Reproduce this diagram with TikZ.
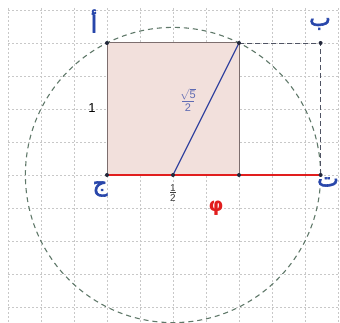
\documentclass[tikz,border=0pt]{standalone}
\usepackage{fontspec}
\setmainfont{Liberation Sans}
\newfontfamily\arabicfont[Script=Arabic, FakeBold=2.5]{DejaVu Sans}
\newfontfamily\dejavu{DejaVu Sans}
\TeXXeTstate=1
\definecolor{gridc}{RGB}{200,200,200}
\definecolor{sqfill}{RGB}{242,224,220}
\definecolor{sqedge}{RGB}{125,110,110}
\definecolor{bluel}{RGB}{55,70,160}
\definecolor{labblue}{RGB}{40,70,170}
\definecolor{redl}{RGB}{225,30,30}
\definecolor{circc}{RGB}{95,120,105}
\definecolor{dotc}{RGB}{35,40,60}
\begin{document}
\begin{tikzpicture}[x=1pt,y=-1pt,
  gridline/.style={gridc, line width=0.6pt, dash pattern=on 2pt off 2pt},
  pt/.style={circle, fill=dotc, inner sep=0pt, minimum size=4pt},
  arlab/.style={text=labblue, font=\arabicfont\fontsize{23}{23}\selectfont, inner sep=0pt},
  numlab/.style={font=\fontsize{13}{13}\selectfont, inner sep=0pt}]
\useasboundingbox (0,0) rectangle (340,323);
% grid
\foreach \k in {0,...,10} \draw[gridline] (8+33*\k,8) -- (8+33*\k,323);
\foreach \k in {0,...,9} \draw[gridline] (8,10+33*\k) -- (340,10+33*\k);
% points
\coordinate (A) at (107,43);
\coordinate (P) at (239,43);
\coordinate (B) at (320.6,43);
\coordinate (C) at (107,175);
\coordinate (M) at (173,175);
\coordinate (Q) at (239,175);
\coordinate (T) at (320.6,175);
% square
\fill[sqfill] (A) rectangle (Q);
\draw[sqedge, line width=1pt] (C) -- (A) -- (P) -- (Q);
% circle
\draw[circc, line width=1.1pt, dash pattern=on 5pt off 4pt] (M) circle[radius=147.6pt];
% dashed rectangle sides
\draw[dotc!80, line width=0.9pt, dash pattern=on 5pt off 3pt] (P) -- (B) -- (T);
% red segment
\draw[redl, line width=2.6pt] (C) -- (T);
% diagonal
\draw[bluel, line width=1.2pt] (M) -- (P);
% dots
\foreach \p in {A,P,B,C,M,Q,T} \node[pt] at (\p) {};
% labels
\node[arlab] (la) at (94,21) {\beginR أ\endR};
\node[arlab] (lb) at (320,24) {\beginR ب\endR};
\node[arlab] (lc) at (100,189) {\beginR ج\endR};
\node[arlab] (lt) at (328,182) {\beginR ت\endR};
\node[numlab] (l1) at (92,108) {1};
\node[font=\fontsize{10}{10}\selectfont, inner sep=0pt, text=black!75] (lh) at (173,193)
  {\shortstack{1\\[-2pt]\rule{6pt}{0.6pt}\\[-1pt]2}};
\node[text=bluel!80, inner sep=0pt] (ls) at (188,100)
  {\fontsize{11}{11}\selectfont\shortstack{$\sqrt{\mathrm{5}}$\\[-2pt]\rule{12pt}{0.6pt}\\[-1pt]2}};
\node[text=redl, font=\dejavu\bfseries\fontsize{19}{19}\selectfont, inner sep=0pt] (lphi) at (216,208) {φ};
\end{tikzpicture}
\end{document}
